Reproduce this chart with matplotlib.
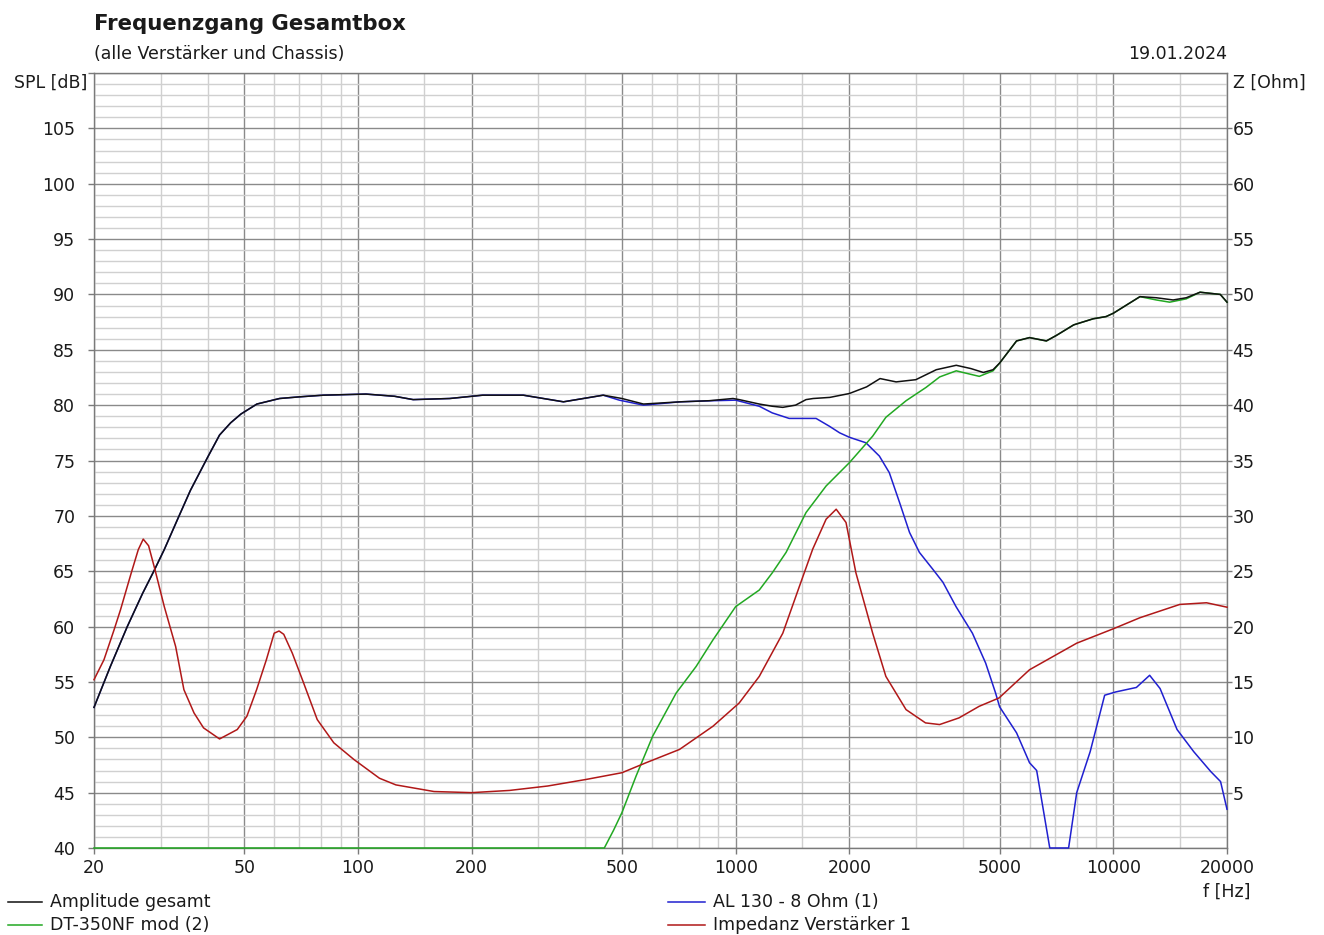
import matplotlib
matplotlib.use("Agg")
import matplotlib.pyplot as plt
from matplotlib.lines import Line2D
from matplotlib.ticker import FixedLocator, NullFormatter

# ---------------- data ----------------
f_total = [20, 22.1, 24.5, 26.9, 28.8, 30.7, 33.3, 36, 40, 43, 46, 49, 54, 62, 70, 81,
           105, 125, 140, 175, 214, 274, 350, 446, 500, 570, 713, 850, 984, 1022, 1155,
           1250, 1333, 1441, 1536, 1604, 1776, 2000, 2222, 2412, 2660, 3000, 3398, 3838,
           4200, 4527, 4803, 5000, 5544, 6000, 6650, 7070, 7854, 8845, 9570, 10000,
           11765, 13000, 14400, 15600, 16970, 19200, 20000]
spl_total = [52.7, 56.4, 60.0, 63.0, 65.0, 66.96, 69.7, 72.3, 75.3, 77.3, 78.4, 79.2,
             80.1, 80.6, 80.75, 80.9, 81.0, 80.8, 80.5, 80.6, 80.9, 80.9, 80.3, 80.9,
             80.6, 80.1, 80.3, 80.4, 80.6, 80.5, 80.1, 79.9, 79.8, 80.0, 80.5, 80.6, 80.7,
             81.05, 81.65, 82.4, 82.1, 82.3, 83.2, 83.6, 83.3, 82.95, 83.2, 83.8, 85.8,
             86.1, 85.8, 86.3, 87.25, 87.8, 88.0, 88.3, 89.8, 89.7, 89.5, 89.7, 90.2,
             90.0, 89.3]

f_tweeter = [20, 449, 475, 500, 545, 603, 696, 786, 871, 1000, 1155, 1250, 1360, 1536,
             1736, 2000, 2306, 2499, 2827, 3192, 3470, 3838, 4000, 4417, 4803, 5000,
             5544, 6000, 6650, 7070, 7854, 8845, 9570, 10000, 11765, 13000, 14100, 15600,
             16970, 19200, 20000]
spl_tweeter = [40, 40, 41.6, 43.2, 46.5, 50.1, 54.0, 56.4, 58.8, 61.8, 63.3, 64.85, 66.7,
               70.3, 72.7, 74.8, 77.2, 78.9, 80.4, 81.6, 82.55, 83.1, 82.95, 82.6, 83.1,
               83.8, 85.8, 86.1, 85.8, 86.3, 87.25, 87.8, 88.0, 88.3, 89.8, 89.5, 89.3,
               89.6, 90.2, 90.0, 89.3]

f_woofer = [20, 22.1, 24.5, 26.9, 28.8, 30.7, 33.3, 36, 40, 43, 46, 49, 54, 62, 70, 81,
            105, 125, 140, 175, 214, 274, 350, 446, 492, 570, 713, 871, 1000, 1155, 1250,
            1386, 1633, 1770, 1885, 2000, 2213, 2402, 2552, 2717, 2887, 3066, 3323, 3539,
            3833, 4236, 4592, 4878, 5000, 5544, 6000, 6267, 6788, 7614, 8000, 8684, 9486,
            10160, 11510, 12480, 13300, 14750, 16330, 18120, 19230, 20000]
spl_woofer = [52.7, 56.4, 60.0, 63.0, 65.0, 66.96, 69.7, 72.3, 75.3, 77.3, 78.4, 79.2,
              80.1, 80.6, 80.75, 80.9, 81.0, 80.8, 80.5, 80.6, 80.9, 80.9, 80.3, 80.9,
              80.45, 80.0, 80.3, 80.4, 80.45, 79.9, 79.3, 78.8, 78.8, 78.1, 77.5, 77.1,
              76.6, 75.4, 73.9, 71.2, 68.5, 66.7, 65.2, 64.0, 61.8, 59.4, 56.7, 54.0,
              52.75, 50.4, 47.7, 47.0, 40, 40, 45.0, 48.7, 53.8, 54.1, 54.5, 55.6, 54.4,
              50.7, 48.7, 46.9, 46.0, 43.5]

f_imp = [20, 21.25, 22.6, 23.5, 25.1, 26.2, 27.0, 27.9, 29.0, 30.7, 32.9, 34.6, 36.8,
         39.0, 43.0, 47.9, 50.8, 53.9, 57.2, 60.0, 61.8, 63.6, 67.0, 71.8, 78.0, 86.3,
         97.5, 114, 126, 159, 200, 252, 318, 403, 500, 579, 710, 871, 1022, 1155, 1333,
         1474, 1600, 1736, 1846, 1960, 2082, 2306, 2499, 2826, 3182, 3468, 3902, 4415,
         4981, 6000, 8000, 10000, 11765, 15000, 17650, 20000]
z_imp = [15.2, 17.0, 19.7, 21.5, 24.85, 26.95, 27.9, 27.3, 25.15, 21.8, 18.2, 14.3, 12.2,
         10.85, 9.85, 10.7, 11.9, 14.3, 17.0, 19.4, 19.6, 19.3, 17.6, 14.9, 11.6, 9.5,
         8.0, 6.3, 5.7, 5.1, 5.0, 5.2, 5.6, 6.2, 6.8, 7.7, 8.9, 11.0, 13.1, 15.5, 19.4,
         23.6, 27.0, 29.7, 30.6, 29.4, 24.85, 19.4, 15.5, 12.5, 11.3, 11.15, 11.75, 12.8,
         13.55, 16.1, 18.5, 19.8, 20.8, 22.0, 22.15, 21.75]

x_major = [20, 50, 100, 200, 500, 1000, 2000, 5000, 10000, 20000]
x_minor = [30, 40, 60, 70, 80, 90, 150, 300, 400, 600, 700, 800, 900, 1500, 3000, 4000,
           6000, 7000, 8000, 9000, 15000]
spl_ticks = list(range(40, 110, 5))
z_ticks = list(range(5, 70, 5))

legend_labels = ["Amplitude gesamt", "DT-350NF mod (2)", "AL 130 - 8 Ohm (1)",
                 "Impedanz Verstärker 1"]

# ---------------- styling ----------------
W, H = 1324, 935
C_BLACK = "#101010"
C_GREEN = "#22a822"
C_BLUE = "#2020d0"
C_RED = "#b01818"
FS = 12.5
plt.rcParams["font.family"] = ["DejaVu Sans"]

fig = plt.figure(figsize=(W / 100, H / 100), dpi=100)
fig.patch.set_facecolor("white")


def fx(x):
    return x / W


def fy(y):
    return 1 - y / H


ax = fig.add_axes([fx(94), fy(848), fx(1227) - fx(94), fy(73) - fy(848)])
ax.set_xscale("log")
ax.set_xlim(20, 20000)
ax.set_ylim(40, 110)

ax.xaxis.set_major_locator(FixedLocator(x_major))
ax.xaxis.set_minor_locator(FixedLocator(x_minor))
ax.xaxis.set_minor_formatter(NullFormatter())
ax.set_xticklabels([str(v) for v in x_major])
ax.yaxis.set_major_locator(FixedLocator(spl_ticks + [110]))
ax.yaxis.set_minor_locator(FixedLocator([v for v in range(40, 111) if v % 5]))
ax.set_yticklabels([str(v) for v in spl_ticks] + [""])

ax.grid(which="major", color="#8a8a8a", linewidth=1.0)
ax.grid(which="minor", color="#d0d0d0", linewidth=1.0)
ax.set_axisbelow(True)
for s in ax.spines.values():
    s.set_color("#7a7a7a")
    s.set_linewidth(1.0)

ax.tick_params(axis="x", which="major", length=4, width=1, color="#7a7a7a",
               pad=4, labelsize=FS, labelcolor="#1a1a1a")
ax.tick_params(axis="x", which="minor", length=0)
ax.tick_params(axis="y", which="major", length=4.5, width=1, color="#7a7a7a",
               pad=9, labelsize=FS, labelcolor="#1a1a1a")
ax.tick_params(axis="y", which="minor", length=0)

ax.plot(f_woofer, spl_woofer, color=C_BLUE, lw=1.1, clip_on=False, zorder=3)
ax.plot(f_tweeter, spl_tweeter, color=C_GREEN, lw=1.1, clip_on=False, zorder=4)
ax.plot(f_total, spl_total, color=C_BLACK, lw=1.1, clip_on=False, zorder=5)

ax2 = ax.twinx()
ax2.set_ylim(0, 70)
ax2.yaxis.set_major_locator(FixedLocator(z_ticks))
ax2.set_yticklabels([str(v) for v in z_ticks])
ax2.tick_params(axis="y", which="major", length=3.5, width=1, color="#7a7a7a",
                pad=0.5, labelsize=FS, labelcolor="#1a1a1a")
for s in ax2.spines.values():
    s.set_visible(False)
ax2.plot(f_imp, z_imp, color=C_RED, lw=1.1, clip_on=False, zorder=3)

# ---------------- texts ----------------
fig.text(fx(94), fy(24), "Frequenzgang Gesamtbox", fontsize=15.3, fontweight="bold",
         ha="left", va="center", color="#1a1a1a")
fig.text(fx(94), fy(54), "(alle Verstärker und Chassis)", fontsize=FS,
         ha="left", va="center", color="#1a1a1a")
fig.text(fx(1227), fy(54), "19.01.2024", fontsize=FS, ha="right", va="center",
         color="#1a1a1a")
fig.text(fx(87), fy(83), "SPL [dB]", fontsize=FS, ha="right", va="center",
         color="#1a1a1a")
fig.text(fx(1233), fy(83), "Z [Ohm]", fontsize=FS, ha="left", va="center",
         color="#1a1a1a")
fig.text(fx(1227), fy(892), "f [Hz]", fontsize=FS, ha="center", va="center",
         color="#1a1a1a")

# legend (manual, two columns at the bottom)
leg_items = [
    (8, 42, 50, 902, C_BLACK, legend_labels[0]),
    (8, 42, 50, 925, C_GREEN, legend_labels[1]),
    (668, 705, 713, 902, C_BLUE, legend_labels[2]),
    (668, 705, 713, 925, C_RED, legend_labels[3]),
]
for x0, x1, xt, yy, col, lab in leg_items:
    fig.add_artist(Line2D([fx(x0), fx(x1)], [fy(yy), fy(yy)], color=col, lw=1.1,
                          transform=fig.transFigure))
    fig.text(fx(xt), fy(yy), lab, fontsize=FS, ha="left", va="center", color="#1a1a1a")

fig.savefig("out.png", dpi=100, facecolor="white")
